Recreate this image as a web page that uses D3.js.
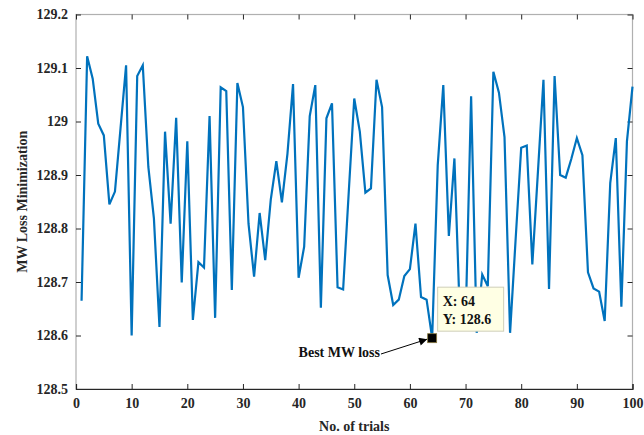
<!DOCTYPE html>
<html><head><meta charset="utf-8">
<script src="https://cdn.jsdelivr.net/npm/d3@7/dist/d3.min.js"></script>
<style>
html,body{margin:0;padding:0;background:#fff;}
svg{display:block;}
text{font-family:"Liberation Serif","Times New Roman",serif;font-weight:bold;}
</style></head>
<body>
<svg id="chart" width="644" height="435"></svg>
<script>
// ---- data ----
const trials = d3.range(1, 101);
const losses = [
128.665,129.122,129.080,128.996,128.974,128.845,128.869,128.987,129.105,128.600,
129.085,129.105,128.915,128.819,128.616,128.981,128.809,129.007,128.699,128.963,
128.629,128.737,128.727,129.010,128.633,129.064,129.057,128.685,129.072,129.027,
128.809,128.710,128.829,128.741,128.854,128.926,128.849,128.940,129.070,128.708,
128.766,129.010,129.068,128.652,129.006,129.034,128.690,128.686,128.866,129.043,
128.981,128.867,128.875,129.078,129.027,128.713,128.657,128.667,128.711,128.724,
128.809,128.672,128.667,128.595,128.918,129.068,128.786,128.931,128.630,128.620,
129.047,128.605,128.714,128.692,129.093,129.054,128.971,128.605,128.780,128.951,
128.955,128.733,128.905,129.078,128.687,129.085,128.900,128.895,128.930,128.969,
128.937,128.718,128.688,128.682,128.627,128.885,128.969,128.654,128.963,129.065
];
const xTicks = [0,10,20,30,40,50,60,70,80,90,100];
const yTicks = [128.5,128.6,128.7,128.8,128.9,129,129.1,129.2];
const yTickLabels = ["128.5","128.6","128.7","128.8","128.9","129","129.1","129.2"];
const bestTrial = 64;
const bestLabelX = "X: 64";
const bestLabelY = "Y: 128.6";
const bestText = "Best MW loss";
const xTitle = "No. of trials";
const yTitle = "MW Loss Minimization";

// ---- layout ----
const L = 76, R = 632.5, T = 14.5, B = 389;
const svg = d3.select("#chart");
const x = d3.scaleLinear().domain([0,100]).range([L,R]);
const y = d3.scaleLinear().domain([128.5,129.2]).range([B,T]);
const txt = "#262626";

// box (gray)
svg.append("rect").attr("x",L).attr("y",T).attr("width",R-L).attr("height",B-T)
  .attr("fill","none").attr("stroke","#b0b0b0").attr("stroke-width",1.2);

// axes
const xAxis = d3.axisBottom(x).tickValues(xTicks).tickSize(-5).tickPadding(9).tickFormat(d3.format("d"));
const gx = svg.append("g").attr("transform",`translate(0,${B})`).call(xAxis);
gx.select(".domain").attr("stroke","#262626").attr("stroke-width",1.2);
gx.selectAll(".tick line").attr("stroke","#262626");
gx.selectAll("text").attr("fill",txt).style("font-size","14px").attr("dy","0.71em");

const xTop = d3.axisTop(x).tickValues(xTicks).tickSize(-5).tickFormat("");
const gxt = svg.append("g").attr("transform",`translate(0,${T})`).call(xTop);
gxt.select(".domain").remove();
gxt.selectAll(".tick line").attr("stroke","#262626");

const yAxis = d3.axisLeft(y).tickValues(yTicks).tickSize(-5).tickPadding(8)
  .tickFormat((d,i)=>yTickLabels[i]);
const gy = svg.append("g").attr("transform",`translate(${L},0)`).call(yAxis);
gy.select(".domain").remove();
gy.selectAll(".tick line").attr("stroke","#262626");
gy.selectAll("text").attr("fill",txt).style("font-size","14px");

const yRight = d3.axisRight(y).tickValues(yTicks).tickSize(-5).tickFormat("");
const gyr = svg.append("g").attr("transform",`translate(${R},0)`).call(yRight);
gyr.select(".domain").remove();
gyr.selectAll(".tick line").attr("stroke","#262626");

// titles
svg.append("text").attr("x",(L+R)/2).attr("y",431).attr("text-anchor","middle")
  .attr("fill",txt).style("font-size","14px").text(xTitle);
svg.append("text").attr("transform",`translate(27,${(T+B)/2}) rotate(-90)`)
  .attr("text-anchor","middle").attr("fill",txt).style("font-size","14px").text(yTitle);

// line
const line = d3.line().x((d,i)=>x(trials[i])).y(d=>y(d));
svg.append("path").datum(losses).attr("d",line).attr("fill","none")
  .attr("stroke","#0072BD").attr("stroke-width",2.2).attr("stroke-linejoin","miter");

// best marker
const bx = x(bestTrial), by = y(losses[bestTrial-1]);
svg.append("rect").attr("x",bx-4.5).attr("y",by-4.5).attr("width",9).attr("height",9)
  .attr("fill","#000").attr("stroke","#8a7a40").attr("stroke-width",0.8);

// datatip box
const tipX = bx+5.5, tipY = by-51;
svg.append("rect").attr("x",tipX).attr("y",tipY).attr("width",66).attr("height",44)
  .attr("fill","#ffffe4").attr("stroke","#cfcfb8").attr("stroke-width",1);
svg.append("text").attr("x",tipX+5).attr("y",tipY+19).attr("fill","#111")
  .style("font-size","14px").text(bestLabelX);
svg.append("text").attr("x",tipX+5).attr("y",tipY+37).attr("fill","#111")
  .style("font-size","14px").text(bestLabelY);

// arrow annotation
const defs = svg.append("defs");
defs.append("marker").attr("id","ah").attr("viewBox","0 0 10 10").attr("refX",10).attr("refY",5)
  .attr("markerWidth",10).attr("markerHeight",8).attr("orient","auto").attr("markerUnits","userSpaceOnUse")
  .append("path").attr("d","M0,0 L10,5 L0,10 Z").attr("fill","#000");
svg.append("line").attr("x1",381).attr("y1",354).attr("x2",bx-5).attr("y2",by+1)
  .attr("stroke","#000").attr("stroke-width",1).attr("marker-end","url(#ah)");
svg.append("text").attr("x",380).attr("y",357).attr("text-anchor","end").attr("fill","#111")
  .style("font-size","14px").text(bestText);
</script>
</body></html>
